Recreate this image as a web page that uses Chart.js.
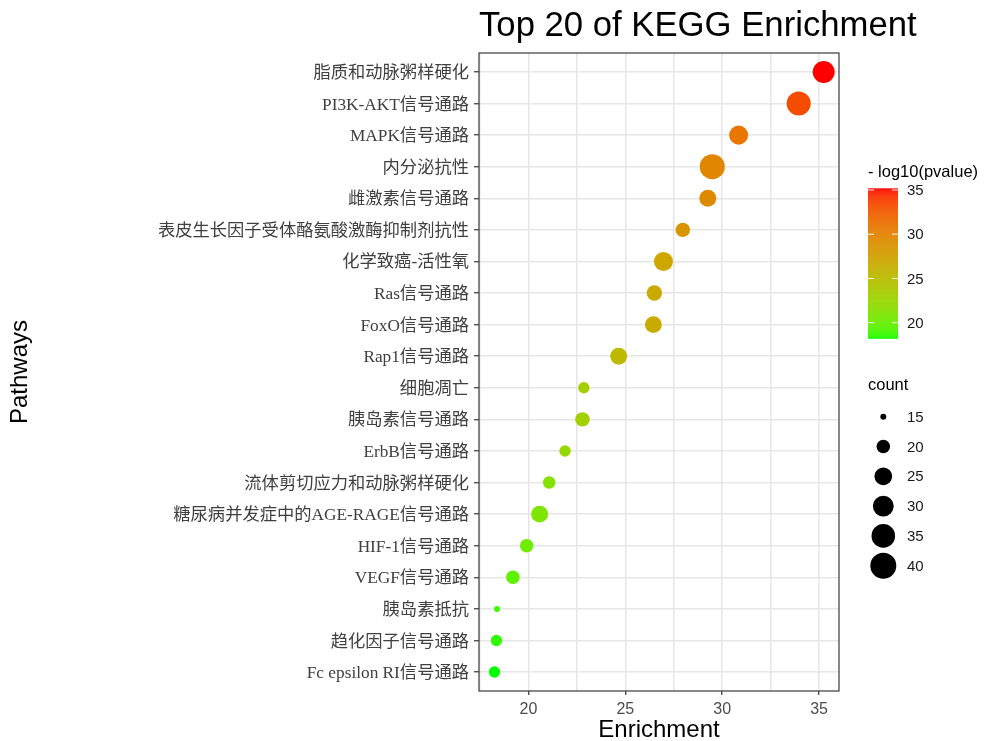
<!DOCTYPE html>
<html>
<head>
<meta charset="utf-8">
<script src="https://cdn.jsdelivr.net/npm/chart.js@4/dist/chart.umd.min.js"></script>
<style>
  html, body { margin: 0; padding: 0; background: #ffffff; }
  #wrap { width: 988px; height: 741px; }
</style>
</head>
<body>
<div id="wrap"><canvas id="c" width="988" height="741"></canvas></div>
<script>
// KEGG pathways, top to bottom
const pathways = [
  '脂质和动脉粥样硬化',
  'PI3K-AKT信号通路',
  'MAPK信号通路',
  '内分泌抗性',
  '雌激素信号通路',
  '表皮生长因子受体酪氨酸激酶抑制剂抗性',
  '化学致癌-活性氧',
  'Ras信号通路',
  'FoxO信号通路',
  'Rap1信号通路',
  '细胞凋亡',
  '胰岛素信号通路',
  'ErbB信号通路',
  '流体剪切应力和动脉粥样硬化',
  '糖尿病并发症中的AGE-RAGE信号通路',
  'HIF-1信号通路',
  'VEGF信号通路',
  '胰岛素抵抗',
  '趋化因子信号通路',
  'Fc epsilon RI信号通路'
];
const enrichment = [35.24, 33.95, 30.85, 29.49, 29.26, 27.97, 26.97, 26.50, 26.45, 24.66,
                    22.86, 22.79, 21.89, 21.07, 20.58, 19.91, 19.20, 18.38, 18.35, 18.25];
const counts     = [32, 36, 27, 38, 24, 21, 27, 22, 24, 24,
                    18, 21, 18, 19, 24, 20, 20, 15, 18, 18];
const negLog10P  = [35.19, 33.40, 31.00, 29.80, 29.60, 28.60, 27.20, 26.90, 26.80, 25.30,
                    23.30, 23.20, 22.40, 21.30, 20.90, 20.30, 19.60, 18.90, 18.60, 18.23];

const xTicks = [17.5, 20, 22.5, 25, 27.5, 30, 32.5, 35];
const colorbarTicks = [20, 25, 30, 35];
const sizeBreaks = [15, 20, 25, 30, 35, 40];

const SANS = '"Liberation Sans", Arial, Helvetica, sans-serif';
const SERIF = '"Liberation Serif", "Times New Roman", "Noto Sans CJK SC", serif';

// point size: area-like scaling of count
function radiusOf(n) {
  return (2.75 + 4.6 * Math.sqrt(Math.max(n - 14.5, 0))) / 2;
}

// green -> red gradient interpolated in CIE Lab
function toLin(c) { c /= 255; return c <= 0.04045 ? c / 12.92 : Math.pow((c + 0.055) / 1.055, 2.4); }
function fromLin(c) {
  const v = c <= 0.0031308 ? 12.92 * c : 1.055 * Math.pow(c, 1 / 2.4) - 0.055;
  return Math.round(Math.min(1, Math.max(0, v)) * 255);
}
function rgbToLab(rgb) {
  const R = toLin(rgb[0]), G = toLin(rgb[1]), B = toLin(rgb[2]);
  const X = (0.4124564 * R + 0.3575761 * G + 0.1804375 * B) / 0.95047;
  const Y = (0.2126729 * R + 0.7151522 * G + 0.0721750 * B);
  const Z = (0.0193339 * R + 0.1191920 * G + 0.9503041 * B) / 1.08883;
  const f = t => t > 0.008856 ? Math.cbrt(t) : (7.787 * t + 16 / 116);
  const fx = f(X), fy = f(Y), fz = f(Z);
  return [116 * fy - 16, 500 * (fx - fy), 200 * (fy - fz)];
}
function labToRgb(lab) {
  const fy = (lab[0] + 16) / 116, fx = fy + lab[1] / 500, fz = fy - lab[2] / 200;
  const inv = t => (t * t * t > 0.008856) ? t * t * t : (t - 16 / 116) / 7.787;
  const X = inv(fx) * 0.95047, Y = inv(fy), Z = inv(fz) * 1.08883;
  const R = 3.2404542 * X - 1.5371385 * Y - 0.4985314 * Z;
  const G = -0.9692660 * X + 1.8760108 * Y + 0.0415560 * Z;
  const B = 0.0556434 * X - 0.2040259 * Y + 1.0572252 * Z;
  return [fromLin(R), fromLin(G), fromLin(B)];
}
const LOW_LAB = rgbToLab([0, 255, 0]);
const HIGH_LAB = rgbToLab([255, 0, 0]);
const pMin = Math.min(...negLog10P), pMax = Math.max(...negLog10P);
function colorOf(v) {
  const t = Math.min(1, Math.max(0, (v - pMin) / (pMax - pMin)));
  const lab = LOW_LAB.map((l, k) => l + (HIGH_LAB[k] - l) * t);
  const c = labToRgb(lab);
  return `rgb(${c[0]},${c[1]},${c[2]})`;
}

// title, panel border and the two legends
const decorations = {
  id: 'decorations',
  afterDraw(chart) {
    const ctx = chart.ctx;
    const a = chart.chartArea;
    ctx.save();

    // panel border
    ctx.strokeStyle = '#3a3a3a';
    ctx.lineWidth = 1.2;
    ctx.strokeRect(a.left, a.top, a.right - a.left, a.bottom - a.top);

    // title
    ctx.fillStyle = '#000';
    ctx.font = '34.7px ' + SANS;
    ctx.textAlign = 'left';
    ctx.textBaseline = 'alphabetic';
    ctx.fillText('Top 20 of KEGG Enrichment', a.left, 36);

    // colour bar
    const bx = 868, bw = 30, bTop = 188.3, bBot = 338.3;
    ctx.font = '16.5px ' + SANS;
    ctx.fillStyle = '#000';
    ctx.fillText('- log10(pvalue)', bx, 177);
    const steps = 150;
    for (let i = 0; i < steps; i++) {
      const y0 = bBot - (i + 1) * (bBot - bTop) / steps;
      const v = pMin + (i + 0.5) / steps * (pMax - pMin);
      ctx.fillStyle = colorOf(v);
      ctx.fillRect(bx, y0, bw, (bBot - bTop) / steps + 0.5);
    }
    ctx.font = '15px ' + SANS;
    ctx.textBaseline = 'middle';
    colorbarTicks.forEach(v => {
      const y = bBot - (v - pMin) / (pMax - pMin) * (bBot - bTop);
      ctx.strokeStyle = 'rgba(255,255,255,0.9)';
      ctx.lineWidth = 1;
      ctx.beginPath();
      ctx.moveTo(bx, y); ctx.lineTo(bx + 6, y);
      ctx.moveTo(bx + bw - 6, y); ctx.lineTo(bx + bw, y);
      ctx.stroke();
      ctx.fillStyle = '#1a1a1a';
      ctx.fillText(String(v), 907, y + 1);
    });

    // size legend
    ctx.textBaseline = 'alphabetic';
    ctx.font = '16.5px ' + SANS;
    ctx.fillStyle = '#000';
    ctx.fillText('count', bx, 390);
    ctx.font = '15px ' + SANS;
    ctx.textBaseline = 'middle';
    sizeBreaks.forEach((n, i) => {
      const y = 416.7 + i * 29.8;
      ctx.fillStyle = '#000';
      ctx.beginPath();
      ctx.arc(883.3, y, radiusOf(n), 0, Math.PI * 2);
      ctx.fill();
      ctx.fillStyle = '#1a1a1a';
      ctx.fillText(String(n), 907, y + 1);
    });

    ctx.restore();
  }
};

new Chart(document.getElementById('c'), {
  type: 'bubble',
  data: {
    datasets: [{
      data: pathways.map((p, i) => ({ x: enrichment[i], y: i + 1, r: radiusOf(counts[i]) })),
      backgroundColor: negLog10P.map(colorOf),
      borderWidth: 0
    }]
  },
  options: {
    responsive: false,
    devicePixelRatio: 1,
    animation: false,
    events: [],
    layout: { padding: { top: 53, right: 149, bottom: 0, left: 0 } },
    plugins: { legend: { display: false }, tooltip: { enabled: false }, title: { display: false } },
    scales: {
      x: {
        type: 'linear',
        min: 17.45,
        max: 36.03,
        afterBuildTicks: s => { s.ticks = xTicks.map(v => ({ value: v })); },
        afterFit: s => { s.height = 50; },
        border: { display: false },
        grid: {
          color: '#e6e6e6',
          lineWidth: 1.5,
          drawTicks: true,
          tickLength: 4,
          tickWidth: 1.2,
          tickColor: c => (c.tick && c.tick.value % 5 === 0) ? '#333333' : 'rgba(0,0,0,0)'
        },
        ticks: {
          autoSkip: false,
          maxRotation: 0,
          padding: 5,
          color: '#4d4d4d',
          font: { family: SANS, size: 16 },
          callback: v => (v % 5 === 0 ? String(v) : '')
        },
        title: {
          display: true,
          text: 'Enrichment',
          color: '#000',
          font: { family: SANS, size: 24, lineHeight: 0.9 },
          padding: { top: 0, bottom: 0 }
        }
      },
      y: {
        type: 'linear',
        reverse: true,
        min: 0.4,
        max: 20.6,
        afterBuildTicks: s => { s.ticks = pathways.map((_, i) => ({ value: i + 1 })); },
        afterFit: s => { s.width = 479; },
        border: { display: false },
        grid: {
          color: '#e6e6e6',
          lineWidth: 1.5,
          drawTicks: true,
          tickLength: 5,
          tickWidth: 1.2,
          tickColor: '#333333'
        },
        ticks: {
          autoSkip: false,
          padding: 5,
          labelOffset: 1.5,
          color: '#404040',
          font: { family: SERIF, size: 17.3 },
          callback: v => pathways[Math.round(v) - 1] || ''
        },
        title: {
          display: true,
          text: 'Pathways',
          color: '#000',
          font: { family: SANS, size: 24, lineHeight: 1 },
          padding: { top: 8, bottom: 0 }
        }
      }
    }
  },
  plugins: [decorations]
});
</script>
</body>
</html>
